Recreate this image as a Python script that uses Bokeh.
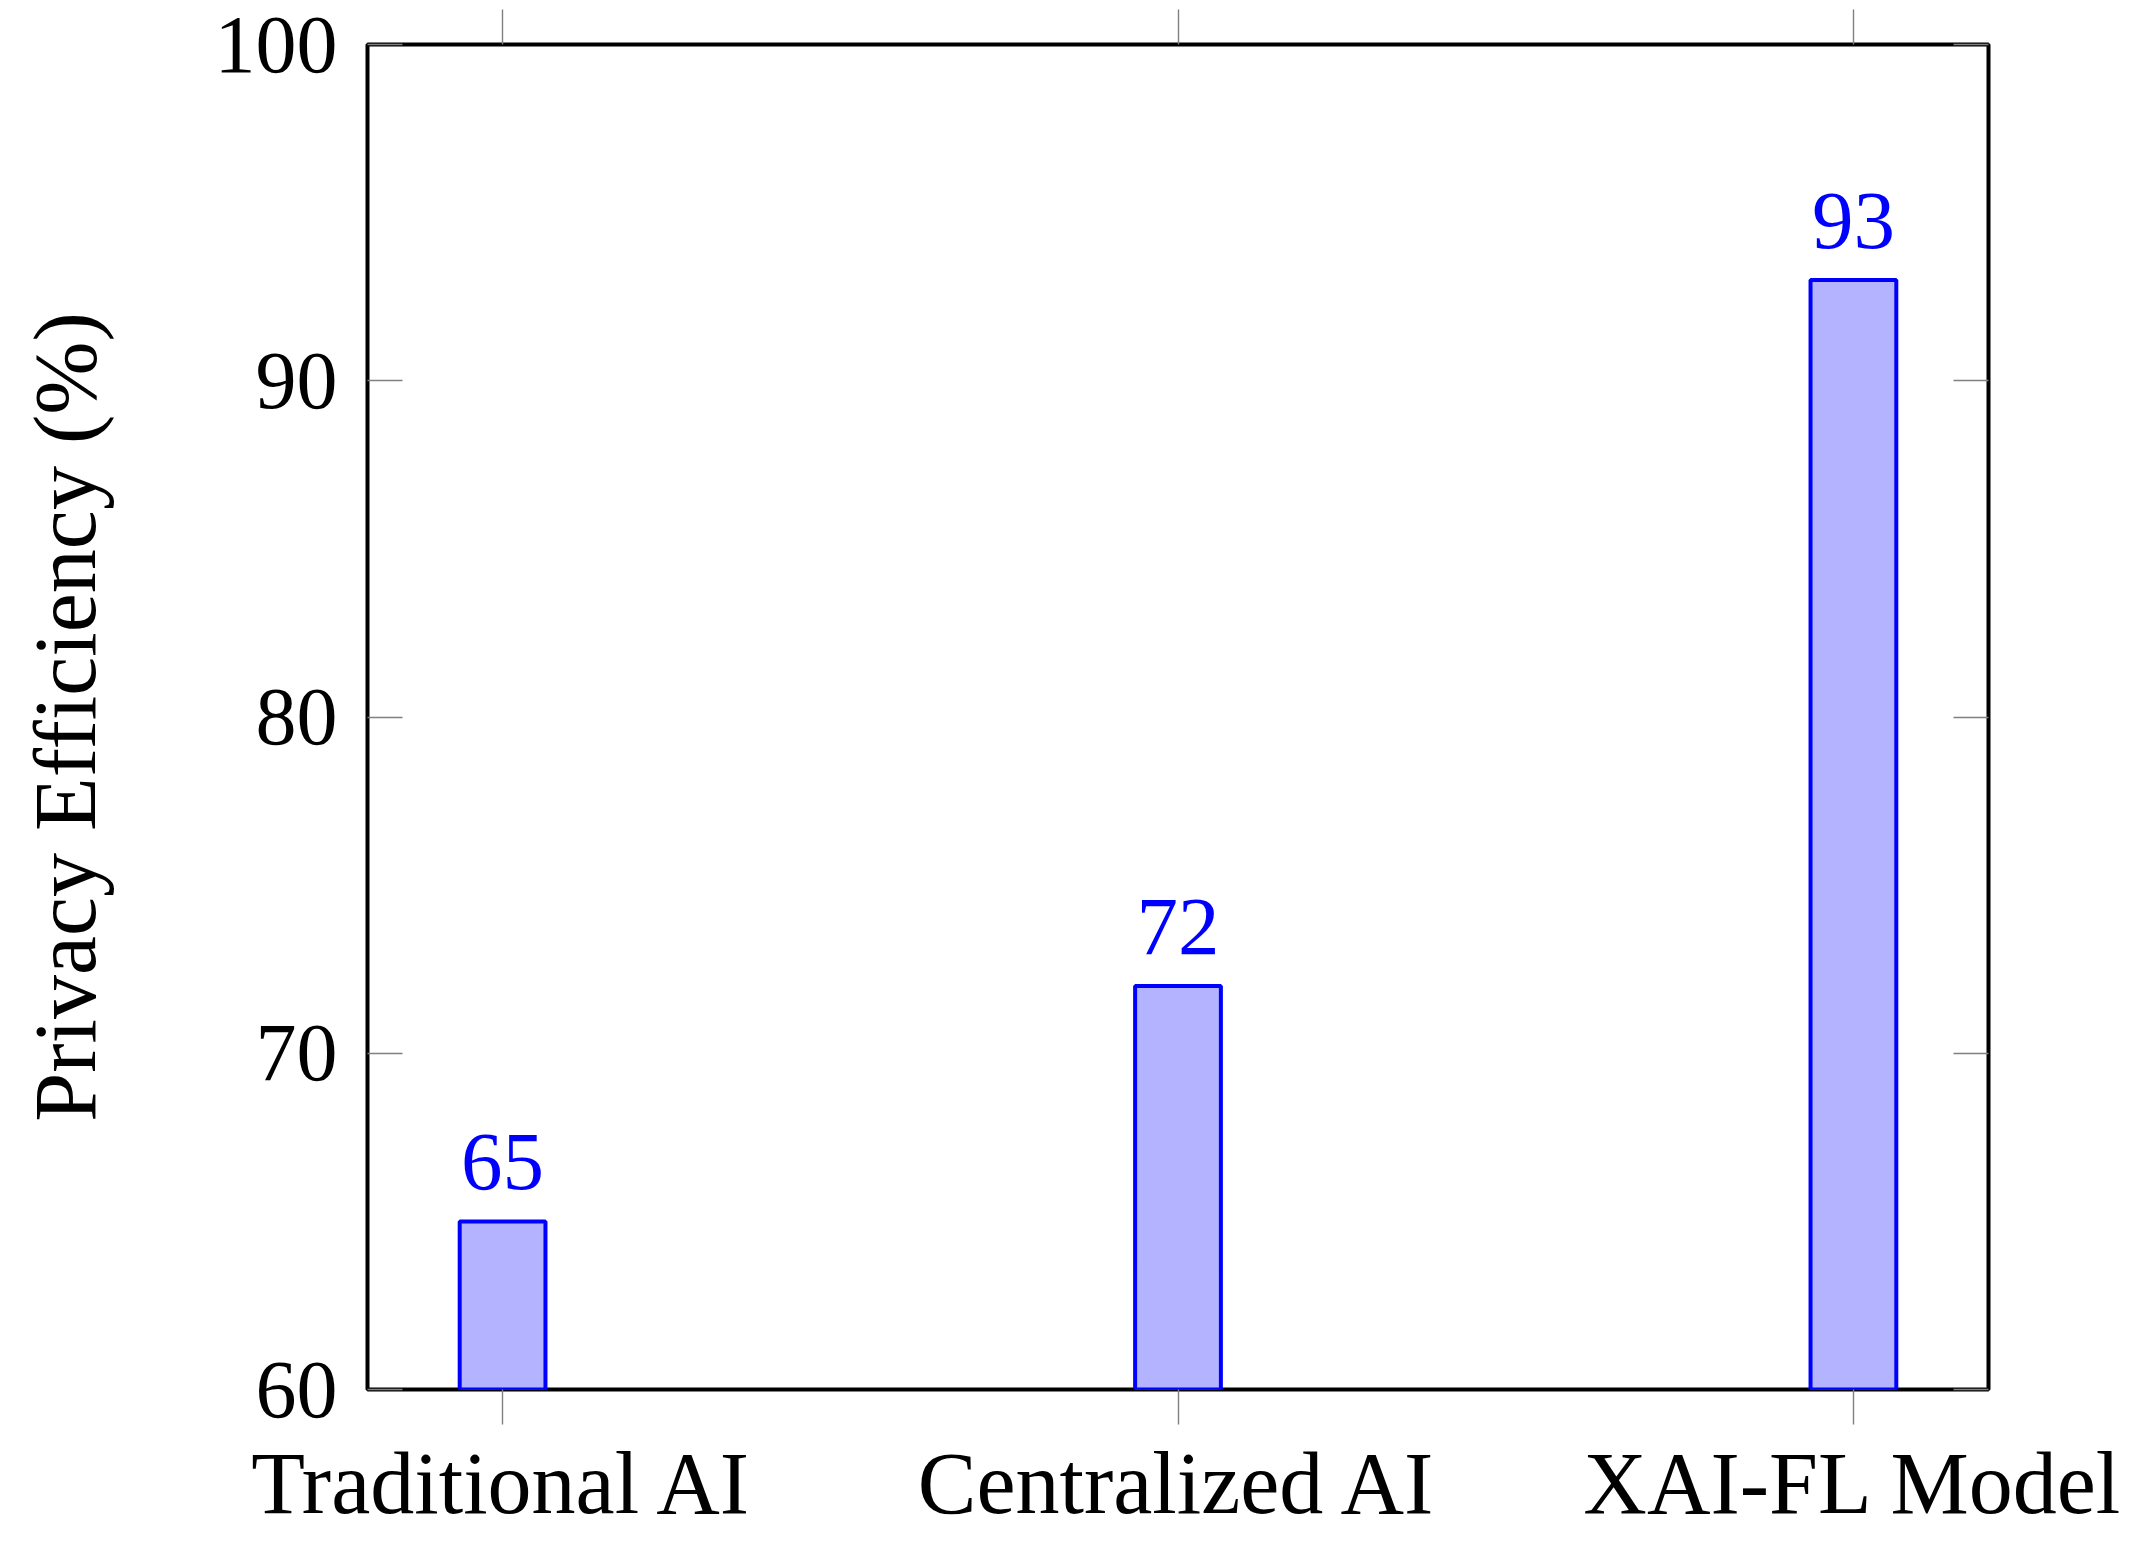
from bokeh.plotting import figure
from bokeh.models import Range1d, LinearAxis, FixedTicker, ColumnDataSource, LabelSet
from bokeh.embed import file_html
from bokeh.resources import INLINE

categories = ["Traditional AI", "Centralized AI", "XAI-FL Model"]
privacy_efficiency = [65, 72, 93]
y_ticks = [60, 70, 80, 90, 100]
y_label = "Privacy Efficiency (%)"

FONT = "Liberation Serif"
y_min, y_max = 60, 100
xpos = list(range(len(categories)))

src = ColumnDataSource(dict(
    x=xpos,
    top=privacy_efficiency,
    label=[str(v) for v in privacy_efficiency],
))

p = figure(width=2133, height=1536, output_backend="svg", toolbar_location=None,
           x_range=Range1d(-0.2, len(categories) - 0.8), y_range=Range1d(y_min, y_max),
           x_axis_location=None, y_axis_location=None)
p.min_border_left = 367
p.min_border_right = 145
p.min_border_top = 44
p.min_border_bottom = 147
p.xgrid.visible = False
p.ygrid.visible = False
p.outline_line_color = "black"
p.outline_line_width = 4
p.background_fill_color = "white"
p.border_fill_color = "white"

TICK = "#808080"

def style(ax, tin, tout, labels=True, ticks=None):
    ax.axis_line_color = None
    ax.major_tick_in = tin
    ax.major_tick_out = tout
    ax.major_tick_line_color = TICK
    ax.major_tick_line_width = 1.4
    ax.minor_tick_line_color = None
    if not labels:
        ax.major_label_overrides = {t: "" for t in ticks}
        ax.major_label_text_font_size = "1px"
        ax.major_label_standoff = 0

# bottom axis
xb = LinearAxis(ticker=FixedTicker(ticks=xpos),
                major_label_overrides={i: c for i, c in zip(xpos, categories)})
style(xb, 0, 35)
xb.major_label_text_font = FONT
xb.major_label_text_font_size = "88px"
xb.major_label_text_color = "black"
xb.major_label_standoff = 10
p.add_layout(xb, "below")

# top axis (ticks only)
xt = LinearAxis(ticker=FixedTicker(ticks=xpos))
style(xt, 0, 35, labels=False, ticks=xpos)
p.add_layout(xt, "above")

# left axis
yl = LinearAxis(ticker=FixedTicker(ticks=y_ticks))
style(yl, 35, 0)
yl.major_label_text_font = FONT
yl.major_label_text_font_size = "82px"
yl.major_label_text_color = "black"
yl.major_label_standoff = 30
yl.axis_label = y_label
yl.axis_label_text_font = FONT
yl.axis_label_text_font_size = "88px"
yl.axis_label_text_font_style = "normal"
yl.axis_label_text_color = "black"
yl.axis_label_standoff = 98
p.add_layout(yl, "left")

# right axis (ticks only)
yr = LinearAxis(ticker=FixedTicker(ticks=y_ticks))
style(yr, 35, 0, labels=False, ticks=y_ticks)
p.add_layout(yr, "right")

p.vbar(x="x", top="top", bottom=y_min, width=0.127, source=src,
       fill_color="#B3B3FF", line_color="#0000FF", line_width=4)

labels = LabelSet(x="x", y="top", text="label", source=src,
                  text_font=FONT, text_font_size="83px", text_color="#0000FF",
                  text_align="center", text_baseline="alphabetic", y_offset=32)
p.add_layout(labels)

open("out.html", "w").write(file_html(p, INLINE))
